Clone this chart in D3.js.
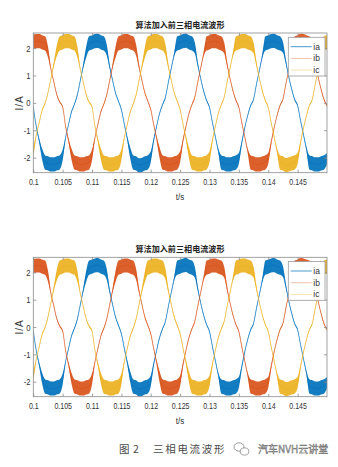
<!DOCTYPE html>
<html>
<head>
<meta charset="utf-8">
<script src="https://cdn.jsdelivr.net/npm/d3@7"></script>
<style>
  html, body { margin: 0; padding: 0; background: #fff; }
  svg { display: block; }
</style>
</head>
<body>
<svg id="fig" width="338" height="467"></svg>
<script>
// Sampling grid of the recorded phase currents (s)
const sampleStart = 0.1;
const sampleStep = 0.0005;

// Phase currents (A), one value per sample
const ia = [-0.15, -0.86, -1.37, -1.87, -2.17, -2.21, -2.25, -2.25, -2.21, -2.17,
  -1.90, -1.27, -0.79, -0.33, -0.05, 0.29, 0.81, 1.34, 1.85, 2.17,
  2.21, 2.25, 2.26, 2.21, 2.17, 1.93, 1.32, 0.82, 0.36, 0.06,
  -0.25, -0.79, -1.30, -1.82, -2.17, -2.21, -2.28, -2.26, -2.21, -2.17,
  -1.97, -1.36, -0.85, -0.39, -0.07, 0.21, 0.76, 1.27, 1.78, 2.17,
  2.21, 2.25, 2.27, 2.21, 2.17, 2.00, 1.40, 0.88, 0.43, 0.09,
  -0.17, -0.72, -1.24, -1.75, -2.17, -2.21, -2.25, -2.25, -2.21, -2.17,
  -2.02, -1.45, -0.91, -0.46, -0.10, 0.13, 0.69, 1.20, 1.72, 2.17,
  2.21, 2.25, 2.26, 2.21, 2.17, 2.03, 1.49, 0.94, 0.49, 0.12,
  -0.10, -0.65, -1.17, -1.68, -2.17, -2.21, -2.25, -2.25, -2.21, -2.17,
  -2.04];
const ib = [2.21, 2.25, 2.25, 2.21, 2.17, 1.86, 1.23, 0.76, 0.30, 0.03,
  -0.15, -0.86, -1.37, -1.87, -2.17, -2.21, -2.25, -2.25, -2.21, -2.17,
  -1.90, -1.27, -0.79, -0.33, -0.05, 0.29, 0.81, 1.34, 1.85, 2.17,
  2.21, 2.25, 2.25, 2.21, 2.17, 1.93, 1.32, 0.82, 0.36, 0.06,
  -0.25, -0.79, -1.30, -1.82, -2.17, -2.21, -2.25, -2.25, -2.21, -2.17,
  -1.97, -1.36, -0.85, -0.39, -0.07, 0.21, 0.76, 1.27, 1.78, 2.17,
  2.21, 2.25, 2.25, 2.21, 2.17, 2.00, 1.40, 0.88, 0.43, 0.09,
  -0.17, -0.72, -1.24, -1.75, -2.17, -2.21, -2.25, -2.25, -2.21, -2.17,
  -2.02, -1.45, -0.91, -0.46, -0.10, 0.13, 0.69, 1.20, 1.72, 2.17,
  2.21, 2.26, 2.25, 2.21, 2.17, 2.03, 1.49, 0.94, 0.49, 0.12,
  -0.10];
const ic = [-1.82, -1.18, -0.73, -0.27, -0.02, 0.37, 0.89, 1.41, 1.90, 2.17,
  2.21, 2.25, 2.25, 2.21, 2.17, 1.86, 1.23, 0.76, 0.30, 0.03,
  -0.15, -0.86, -1.37, -1.87, -2.17, -2.21, -2.25, -2.25, -2.21, -2.17,
  -1.90, -1.27, -0.79, -0.33, -0.05, 0.29, 0.81, 1.34, 1.85, 2.17,
  2.21, 2.25, 2.25, 2.21, 2.17, 1.93, 1.32, 0.82, 0.36, 0.06,
  -0.25, -0.79, -1.30, -1.82, -2.17, -2.21, -2.25, -2.25, -2.21, -2.17,
  -1.97, -1.36, -0.85, -0.39, -0.07, 0.21, 0.76, 1.27, 1.78, 2.17,
  2.21, 2.25, 2.25, 2.21, 2.17, 2.00, 1.40, 0.88, 0.43, 0.09,
  -0.17, -0.72, -1.24, -1.75, -2.17, -2.21, -2.27, -2.25, -2.21, -2.17,
  -2.02, -1.45, -0.91, -0.46, -0.10, 0.13, 0.69, 1.20, 1.72, 2.17,
  2.21];

// Switching ripple half-amplitude (A) riding on each phase current
const ripA = [.03, .03, .07, .2, .26, .26, .26, .26, .26, .26,
  .2, .03, .03, .03, .03, .03, .03, .07, .2, .26,
  .26, .26, .26, .26, .26, .2, .07, .03, .03, .03,
  .03, .03, .07, .2, .26, .26, .26, .26, .26, .26,
  .2, .07, .03, .03, .03, .03, .03, .03, .07, .26,
  .26, .26, .26, .26, .26, .2, .07, .03, .03, .03,
  .03, .03, .03, .07, .26, .26, .26, .26, .26, .26,
  .2, .07, .03, .03, .03, .03, .03, .03, .07, .26,
  .26, .26, .26, .26, .26, .2, .07, .03, .03, .03,
  .03, .03, .03, .07, .26, .26, .26, .26, .26, .26,
  .2];
const ripB = [.26, .26, .26, .26, .26, .2, .03, .03, .03, .03,
  .03, .03, .07, .2, .26, .26, .26, .26, .26, .26,
  .2, .03, .03, .03, .03, .03, .03, .07, .2, .26,
  .26, .26, .26, .26, .26, .2, .07, .03, .03, .03,
  .03, .03, .07, .2, .26, .26, .26, .26, .26, .26,
  .2, .07, .03, .03, .03, .03, .03, .03, .07, .26,
  .26, .26, .26, .26, .26, .2, .07, .03, .03, .03,
  .03, .03, .03, .07, .26, .26, .26, .26, .26, .26,
  .2, .07, .03, .03, .03, .03, .03, .03, .07, .26,
  .26, .26, .26, .26, .26, .2, .07, .03, .03, .03,
  .03];
const ripC = [.2, .03, .03, .03, .03, .03, .03, .07, .2, .26,
  .26, .26, .26, .26, .26, .2, .03, .03, .03, .03,
  .03, .03, .07, .2, .26, .26, .26, .26, .26, .26,
  .2, .03, .03, .03, .03, .03, .03, .07, .2, .26,
  .26, .26, .26, .26, .26, .2, .07, .03, .03, .03,
  .03, .03, .07, .2, .26, .26, .26, .26, .26, .26,
  .2, .07, .03, .03, .03, .03, .03, .03, .07, .26,
  .26, .26, .26, .26, .26, .2, .07, .03, .03, .03,
  .03, .03, .03, .07, .26, .26, .26, .26, .26, .26,
  .2, .07, .03, .03, .03, .03, .03, .03, .07, .26,
  .26];

const seriesNames = ["ia", "ib", "ic"];
const seriesValues = [ia, ib, ic];
const seriesRipple = [ripA, ripB, ripC];
const seriesColors = ["#0072BD", "#D95319", "#EDB120"];

const xTicks = [0.1, 0.105, 0.11, 0.115, 0.12, 0.125, 0.13, 0.135, 0.14, 0.145];
const xTickLabels = ["0.1", "0.105", "0.11", "0.115", "0.12", "0.125", "0.13", "0.135", "0.14", "0.145"];
const yTicks = [-2, -1, 0, 1, 2];
const yTickLabels = ["-2", "-1", "0", "1", "2"];
const xDomain = [0.1, 0.15];
const yDomain = [-2.55, 2.55];

const titleText = "算法加入前三相电流波形";
const xLabelText = "t/s";
const yLabelText = "I/A";
const captionFig = "图";
const captionNum = "2";
const captionText = "三相电流波形";
const brandText = "汽车NVH云讲堂";

const svg = d3.select("#fig");
svg.append("rect").attr("width", 338).attr("height", 467).attr("fill", "#fff");

const tickFont = "'Liberation Sans', Arial, Helvetica, sans-serif";
const cjkFont = "'Noto Sans CJK SC', 'Noto Sans', sans-serif";
const axisColor = "#8a8a8a";
const textColor = "#333";

// Both panels show the same record
const panels = [
  { left: 33.3, top: 33, width: 293.7, height: 139.7, id: "p1" },
  { left: 33.3, top: 257.3, width: 293.7, height: 139.4, id: "p2" }
];

panels.forEach(p => {
  const g = svg.append("g").attr("transform", `translate(${p.left},${p.top})`);
  const x = d3.scaleLinear().domain(xDomain).range([0, p.width]);
  const y = d3.scaleLinear().domain(yDomain).range([p.height, 0]);

  g.append("clipPath").attr("id", "clip-" + p.id)
    .append("rect").attr("width", p.width).attr("height", p.height);

  const plot = g.append("g").attr("clip-path", `url(#clip-${p.id})`);
  const tAt = i => sampleStart + i * sampleStep;

  seriesValues.forEach((vals, s) => {
    const rip = seriesRipple[s];
    const band = d3.area()
      .x((d, i) => x(tAt(i)))
      .y0((d, i) => y(vals[i] - rip[i]))
      .y1((d, i) => y(vals[i] + rip[i]))
      .curve(d3.curveMonotoneX);
    const line = d3.line()
      .x((d, i) => x(tAt(i)))
      .y((d, i) => y(vals[i]))
      .curve(d3.curveMonotoneX);
    plot.append("path").datum(vals)
      .attr("d", band)
      .attr("fill", seriesColors[s])
      .attr("fill-opacity", 0.92);
    plot.append("path").datum(vals)
      .attr("d", line)
      .attr("fill", "none")
      .attr("stroke", seriesColors[s])
      .attr("stroke-width", 0.8)
      .attr("stroke-opacity", 0.75);
  });

  // Axes with inward ticks on all four sides
  const styleAxis = sel => {
    sel.select(".domain").remove();
    sel.selectAll(".tick line").attr("stroke", axisColor).attr("stroke-width", 0.8);
    sel.selectAll("text")
      .attr("fill", textColor)
      .style("font-family", tickFont)
      .style("font-size", "9.5px");
  };

  const bottom = g.append("g").attr("transform", `translate(0,${p.height})`)
    .call(d3.axisBottom(x).tickValues(xTicks).tickFormat((d, i) => xTickLabels[i])
      .tickSizeInner(-3).tickSizeOuter(0).tickPadding(5.5))
    .call(styleAxis);
  bottom.selectAll("text").attr("transform", "scale(0.74,1)");

  g.append("g")
    .call(d3.axisTop(x).tickValues(xTicks).tickFormat("")
      .tickSizeInner(-3).tickSizeOuter(0))
    .call(styleAxis);

  const left = g.append("g")
    .call(d3.axisLeft(y).tickValues(yTicks).tickFormat((d, i) => yTickLabels[i])
      .tickSizeInner(-3).tickSizeOuter(0).tickPadding(3.5))
    .call(styleAxis);
  left.selectAll("text").attr("transform", "scale(0.8,1)");

  g.append("g").attr("transform", `translate(${p.width},0)`)
    .call(d3.axisRight(y).tickValues(yTicks).tickFormat("")
      .tickSizeInner(-3).tickSizeOuter(0))
    .call(styleAxis);

  // Box
  g.append("rect")
    .attr("width", p.width).attr("height", p.height)
    .attr("fill", "none").attr("stroke", axisColor).attr("stroke-width", 0.8);

  // Title
  g.append("text")
    .attr("x", 180 - p.left).attr("y", -5)
    .attr("text-anchor", "middle")
    .attr("fill", "#222")
    .style("font-family", cjkFont)
    .style("font-size", "8.1px")
    .style("font-weight", "bold")
    .text(titleText);

  // Axis labels
  g.append("text")
    .attr("x", 180 - p.left).attr("y", p.height + 27)
    .attr("text-anchor", "middle")
    .attr("fill", textColor)
    .style("font-family", tickFont)
    .style("font-size", "9.5px")
    .attr("transform", `translate(${(180 - p.left) * 0.15},0) scale(0.85,1)`)
    .text(xLabelText);

  g.append("text")
    .attr("transform", `translate(${20 - p.left + 3.3},${p.height / 2}) rotate(-90)`)
    .attr("text-anchor", "middle")
    .attr("fill", textColor)
    .style("font-family", tickFont)
    .style("font-size", "10px")
    .style("letter-spacing", "1px")
    .text(yLabelText);

  // Legend
  const lg = g.append("g").attr("transform", `translate(${288.3 - p.left},4.3)`);
  lg.append("rect").attr("width", 36.7).attr("height", 38.7)
    .attr("fill", "#fff").attr("stroke", "#9a9a9a").attr("stroke-width", 0.8);
  seriesNames.forEach((name, s) => {
    const ly = 9.4 + s * 11.7;
    lg.append("line")
      .attr("x1", 2.4).attr("x2", 23.4).attr("y1", ly).attr("y2", ly)
      .attr("stroke", seriesColors[s]).attr("stroke-width", 0.8)
      .attr("stroke-opacity", s === 0 ? 0.9 : 0.45);
    lg.append("text")
      .attr("x", 25).attr("y", ly + 3)
      .attr("fill", textColor)
      .style("font-family", tickFont)
      .style("font-size", "8.5px")
      .text(name);
  });
});

// Figure caption and publisher mark
const capStyle = sel => sel.attr("fill", "#4a4a4a")
  .style("font-family", cjkFont).style("font-size", "10.5px");
svg.append("text").attr("x", 119).attr("y", 453).call(capStyle).text(captionFig);
svg.append("text").attr("x", 133).attr("y", 453).call(capStyle).text(captionNum);
svg.append("text").attr("x", 153).attr("y", 453).call(capStyle)
  .style("letter-spacing", "1.7px").text(captionText);

const icon = svg.append("g").attr("transform", "translate(241,449)")
  .attr("fill", "none").attr("stroke", "#888").attr("stroke-width", 0.8);
icon.append("ellipse").attr("cx", -2).attr("cy", -2).attr("rx", 5).attr("ry", 4.2);
icon.append("ellipse").attr("cx", 3.5).attr("cy", 2.5).attr("rx", 4.3).attr("ry", 3.6).attr("fill", "#fff");

svg.append("text")
  .attr("x", 258).attr("y", 453)
  .attr("fill", "#d8d8d8")
  .attr("stroke", "#6a6a6a")
  .attr("stroke-width", 0.45)
  .style("font-family", cjkFont)
  .style("font-size", "10px")
  .text(brandText);
</script>
</body>
</html>
